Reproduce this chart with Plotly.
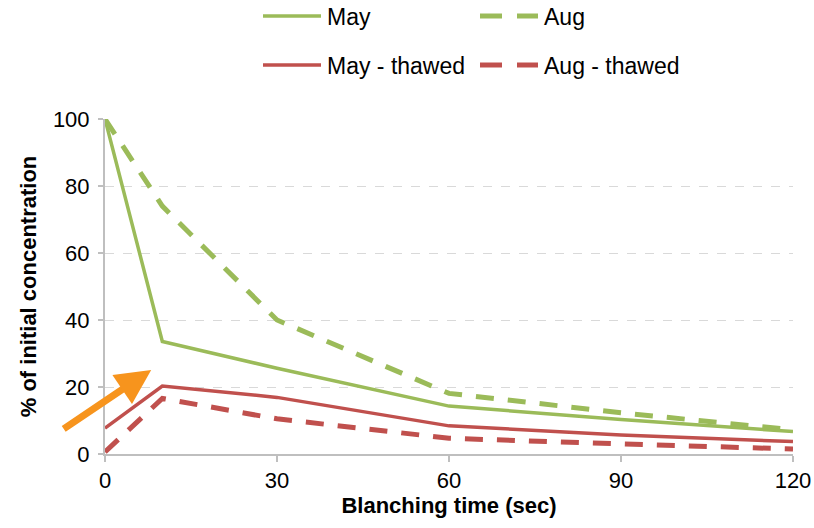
import plotly.graph_objects as go

# Data
times = [0, 10, 30, 60, 90, 120]
may = [100, 33.6, 25.6, 14.3, 10.3, 6.7]
aug = [100, 74, 40, 18.1, 12.3, 7.2]
may_thawed = [7.7, 20.3, 16.9, 8.4, 5.7, 3.7]
aug_thawed = [0.6, 16.6, 10.5, 4.7, 3.0, 1.5]

series_names = ["May", "Aug", "May - thawed", "Aug - thawed"]
x_ticks = [0, 30, 60, 90, 120]
y_ticks = [0, 20, 40, 60, 80, 100]

GREEN = "#9BBB59"
RED = "#C0504D"
ORANGE = "#F7941D"
FONT = "Liberation Sans, Arial, sans-serif"

W, H = 814, 528
ML, MR, MT, MB = 105, 21, 119, 74

fig = go.Figure()
styles = [
    (may, GREEN, "solid", 3.5),
    (aug, GREEN, "18px,14px", 5),
    (may_thawed, RED, "solid", 3.5),
    (aug_thawed, RED, "18px,14px", 5),
]
for (vals, col, dash, w), name in zip(styles, series_names):
    fig.add_trace(go.Scatter(x=times, y=vals, mode="lines", name=name,
                             line=dict(color=col, dash=dash, width=w),
                             showlegend=False))

# Manual legend (to mimic the long legend line samples)
legend_items = [
    (series_names[0], GREEN, False, 0, 0),
    (series_names[1], GREEN, True, 1, 0),
    (series_names[2], RED, False, 0, 1),
    (series_names[3], RED, True, 1, 1),
]
PW = W - ML - MR
PH = H - MT - MB
col_x = [263, 480]
row_y = [16, 65]
seg_len = 58
for name, col, dashed, c, r in legend_items:
    x0 = col_x[c]
    yy = row_y[r]
    if dashed:
        segs = [(x0, x0 + 22), (x0 + 37, x0 + seg_len)]
        w = 5
    else:
        segs = [(x0, x0 + seg_len)]
        w = 3.5
    for a, b in segs:
        fig.add_shape(type="line", xref="paper", yref="paper",
                      x0=(a - ML) / PW, x1=(b - ML) / PW,
                      y0=(H - MB - yy) / PH, y1=(H - MB - yy) / PH,
                      line=dict(color=col, width=w))
    fig.add_annotation(xref="paper", yref="paper",
                       x=(x0 + seg_len + 4 - ML) / PW,
                       y=(H - MB - yy - 1) / PH,
                       text=name, showarrow=False, xanchor="left", yanchor="middle",
                       font=dict(size=23, color="#000000", family=FONT))

# Orange arrow
fig.add_annotation(x=8.06, y=25.1, xref="x", yref="y", ax=-89, ay=60,
                   text="", showarrow=True, arrowhead=2, arrowsize=1.0,
                   arrowwidth=7, arrowcolor=ORANGE)

fig.update_layout(
    width=W, height=H,
    margin=dict(l=ML, r=MR, t=MT, b=MB),
    paper_bgcolor="white", plot_bgcolor="white",
    font=dict(family=FONT, color="#000000"),
)
fig.update_xaxes(
    range=[0, 120], tickvals=x_ticks, ticktext=[str(v) for v in x_ticks],
    showgrid=False, zeroline=False, automargin=False,
    showline=True, linecolor="#BFBFBF", linewidth=2,
    ticks="outside", ticklen=6, tickcolor="#BFBFBF", tickwidth=1.5,
    tickfont=dict(size=22, family=FONT),
    title=dict(text="<b>Blanching time (sec)</b>", font=dict(size=22, family=FONT), standoff=4),
)
fig.update_yaxes(
    range=[0, 100], tickvals=y_ticks, ticktext=[str(v) for v in y_ticks],
    showgrid=True, gridcolor="#D9D9D9", gridwidth=1, griddash="dash",
    zeroline=False, automargin=False,
    showline=True, linecolor="#BFBFBF", linewidth=2,
    ticks="outside", ticklen=5, tickcolor="#BFBFBF", tickwidth=1.5,
    tickfont=dict(size=22, family=FONT), ticklabelstandoff=4,
    title=dict(text="<b>% of initial concentration</b>", font=dict(size=22, family=FONT), standoff=10),
)

fig.write_html("out.html")
